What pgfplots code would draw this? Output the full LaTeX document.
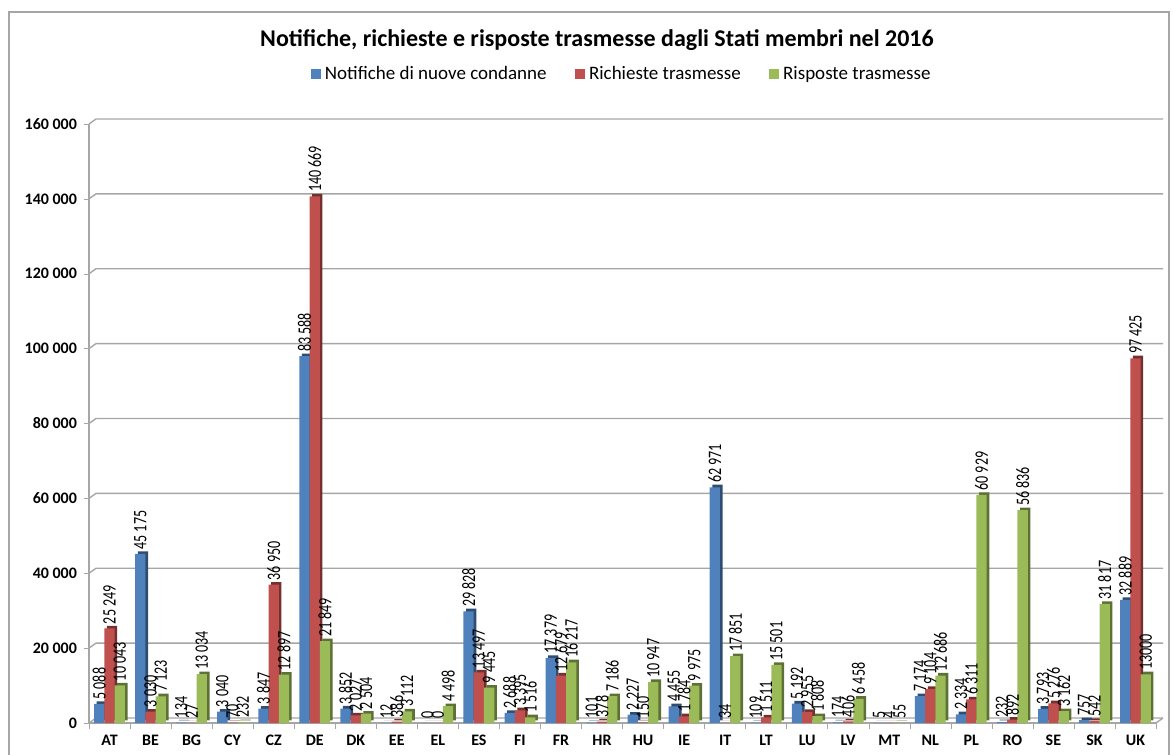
\documentclass[border=0pt]{standalone}
\usepackage{pgfplots}
\usepackage{pgfplotstable}
\usepackage{fontspec}
\setmainfont{Carlito}
\newfontfamily\labfont[FakeStretch=0.74]{Carlito}
\pgfplotsset{compat=1.18}

\definecolor{cblue}{HTML}{4F81BD}
\definecolor{cred}{HTML}{C0504D}
\definecolor{cgreen}{HTML}{9BBB59}
\definecolor{gridgray}{HTML}{A6A6A6}

% x, bar height and label per series
\pgfplotstableread{
x  a      la      b       lb       c      lc
0  5088   5~088   25249   25~249   10043  10~043
1  45175  45~175  3030    3~030    7123   7~123
2  134    134     27      27       13034  13~034
3  3040   3~040   70      70       232    232
4  3847   3~847   36950   36~950   12897  12~897
5  98000  83~588  140669  140~669  21849  21~849
6  3852   3~852   2027    2~027    2504   2~504
7  12     12      386     386      3112   3~112
8  0      0       0       0        4498   4~498
9  29828  29~828  13497   13~497   9445   9~445
10 2688   2~688   3395    3~395    1516   1~516
11 17379  17~379  12679   12~679   16217  16~217
12 101    101     378     378      7186   7~186
13 2227   2~227   150     150      10947  10~947
14 4455   4~455   1784    1~784    9975   9~975
15 62971  62~971  34      34       17851  17~851
16 109    109     1511    1~511    15501  15~501
17 5192   5~192   2955    2~955    1808   1~808
18 174    174     406     406      6458   6~458
19 5      5       4       4        55     55
20 7174   7~174   9104    9~104    12686  12~686
21 2334   2~334   6311    6~311    60929  60~929
22 232    232     892     892      56836  56~836
23 3793   3~793   5276    5~276    3162   3~162
24 757    757     542     542      31817  31~817
25 32889  32~889  97425   97~425   13000  13000
}\data

\pgfplotsset{
  lab/.style={nodes near coords, nodes near coords style={rotate=90, anchor=west,
    inner sep=2pt, font=\fontsize{9.5}{11}\labfont}},
  side/.style={xshift=1.3pt, yshift=1.3pt, forget plot, draw=none},
}

\begin{document}
\begin{tikzpicture}
\path[use as bounding box] (0,0) rectangle (586.5pt,-377.5pt);
\draw[gray!70, line width=0.6pt] (4.5pt,-377.5pt) -- (4.5pt,-6pt) -- (584.5pt,-6pt) -- (584.5pt,-377.5pt);

\node[font=\bfseries\fontsize{12}{14}\selectfont] at (298.5pt,-20pt)
  {Notifiche, richieste e risposte trasmesse dagli Stati membri nel 2016};

\begin{axis}[
  at={(44.5pt,-361.5pt)}, anchor=south west,
  scale only axis, width=533.5pt, height=299.5pt,
  xmin=-0.5, xmax=25.5, ymin=0, ymax=160000,
  clip=false,
  ybar=0pt, bar width=0.25,
  xtick=data,
  xticklabels={AT,BE,BG,CY,CZ,DE,DK,EE,EL,ES,FI,FR,HR,HU,IE,IT,LT,LU,LV,MT,NL,PL,RO,SE,SK,UK},
  minor xtick={-0.5,0.5,...,25.5},
  major x tick style={draw=none},
  minor x tick style={gridgray},
  minor tick length=3pt,
  ytick={0,20000,40000,60000,80000,100000,120000,140000,160000},
  yticklabels={0,20~000,40~000,60~000,80~000,100~000,120~000,140~000,160~000},
  scaled y ticks=false,
  yticklabel style={font=\bfseries\fontsize{8}{10}\selectfont},
  xticklabel style={font=\bfseries\fontsize{8}{10}\selectfont},
  tick align=outside,
  major tick length=2.5pt,
  axis x line*=bottom, axis y line*=left,
  axis line style={gridgray, line width=0.7pt},
  y tick style={gridgray},
  point meta=explicit symbolic,
  legend columns=3,
  legend style={at={(0.5,1)}, anchor=center, yshift=25pt, draw=none,
    font=\fontsize{9.5}{11}\selectfont,
    /tikz/every even column/.append style={column sep=12pt}},
  legend image code/.code={\fill[#1] (0pt,-2.6pt) rectangle (5.2pt,2.6pt);},
]
% back wall gridlines, set back like the 3D original
\pgfplotsinvokeforeach{0,20000,40000,60000,80000,100000,120000,140000,160000}{
  \draw[gridgray, line width=0.7pt] (axis cs:-0.5,#1)
    -- ([xshift=3.5pt,yshift=2.5pt]axis cs:-0.5,#1)
    -- ([xshift=3.5pt,yshift=2.5pt]axis cs:25.5,#1);
}
\draw[gridgray, line width=0.7pt] (axis cs:25.5,0) -- ([xshift=3.5pt,yshift=2.5pt]axis cs:25.5,0);
\addplot[side, fill=cblue!60!black, bar shift=-0.25] table[x=x, y=a] {\data};
\addplot[fill=cblue, draw=none, bar shift=-0.25, lab] table[x=x, y=a, meta=la] {\data};
\addplot[side, fill=cred!60!black, bar shift=0] table[x=x, y=b] {\data};
\addplot[fill=cred, draw=none, bar shift=0, lab] table[x=x, y=b, meta=lb] {\data};
\addplot[side, fill=cgreen!60!black, bar shift=0.25] table[x=x, y=c] {\data};
\addplot[fill=cgreen, draw=none, bar shift=0.25, lab] table[x=x, y=c, meta=lc] {\data};
\legend{Notifiche di nuove condanne, Richieste trasmesse, Risposte trasmesse}
\end{axis}
\end{tikzpicture}
\end{document}
